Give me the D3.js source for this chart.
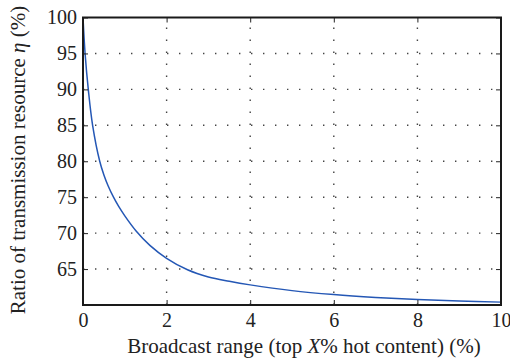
<!DOCTYPE html>
<html>
<head>
<meta charset="utf-8">
<script src="https://cdn.jsdelivr.net/npm/d3@7"></script>
<style>
  body { margin: 0; background: #fff; }
  svg { display: block; }
</style>
</head>
<body>
<svg id="chart" width="510" height="363"></svg>
<script>
// Broadcast range X (top X% hot content, %)
const broadcastRange = [0, 0.05, 0.13, 0.23, 0.4, 0.5, 0.6, 0.73, 0.85, 1.0, 1.27, 1.6, 2.0, 2.5, 3, 3.5, 4, 5, 6, 7, 8, 9, 10];
// Ratio of transmission resource eta (%)
const ratioEta = [100, 95, 89.8, 85, 80, 78.1, 76.6, 75, 73.75, 72.4, 70.3, 68.3, 66.5, 64.9, 63.9, 63.3, 62.8, 62.0, 61.45, 61.05, 60.75, 60.55, 60.4];
const xTicks = [0, 2, 4, 6, 8, 10];
const yTicks = [65, 70, 75, 80, 85, 90, 95, 100];

const svg = d3.select("#chart");
const plotLeft = 83, plotRight = 501, plotTop = 17.5, plotBottom = 305;
const FONT = "Liberation Serif";
const ink = "#222";

const x = d3.scaleLinear().domain([0, 10]).range([plotLeft, plotRight]);
const y = d3.scaleLinear().domain([60, 100]).range([plotBottom, plotTop]);

// dotted grid
const grid = svg.append("g").attr("stroke", "#444").attr("stroke-width", 1.4)
  .attr("stroke-dasharray", "1.4,10.6");
grid.selectAll(".gx").data(xTicks.filter(d => d > 0 && d < 10)).join("line")
  .attr("x1", d => x(d)).attr("x2", d => x(d)).attr("y1", plotBottom).attr("y2", plotTop);
grid.selectAll(".gy").data(yTicks.filter(d => d < 100)).join("line")
  .attr("x1", plotLeft).attr("x2", plotRight).attr("y1", d => y(d)).attr("y2", d => y(d));

// curve
const line = d3.line().x((d, i) => x(broadcastRange[i])).y(d => y(d)).curve(d3.curveCatmullRom.alpha(0.5));
svg.append("path").datum(ratioEta).attr("d", line)
  .attr("fill", "none").attr("stroke", "#2457b5").attr("stroke-width", 1.5);

// axes: inward ticks on all four sides
const tickLen = 5;
const axB = d3.axisBottom(x).tickValues(xTicks).tickSizeInner(-tickLen).tickSizeOuter(0).tickPadding(8);
const axT = d3.axisTop(x).tickValues(xTicks).tickSizeInner(-tickLen).tickSizeOuter(0).tickFormat("");
const axL = d3.axisLeft(y).tickValues(yTicks).tickSizeInner(-tickLen).tickSizeOuter(0).tickPadding(6);
const axR = d3.axisRight(y).tickValues(yTicks).tickSizeInner(-tickLen).tickSizeOuter(0).tickFormat("");

function style(g) {
  g.attr("font-family", FONT).attr("font-size", 20);
  g.select(".domain").remove();
  g.selectAll(".tick line").attr("stroke", ink).attr("stroke-width", 1);
  g.selectAll(".tick text").attr("fill", ink);
}
svg.append("g").attr("transform", `translate(0,${plotBottom})`).call(axB).call(style);
svg.append("g").attr("transform", `translate(0,${plotTop})`).call(axT).call(style);
svg.append("g").attr("transform", `translate(${plotLeft},0)`).call(axL).call(style);
svg.append("g").attr("transform", `translate(${plotRight},0)`).call(axR).call(style);

// box
svg.append("rect").attr("x", plotLeft).attr("y", plotTop)
  .attr("width", plotRight - plotLeft).attr("height", plotBottom - plotTop)
  .attr("fill", "none").attr("stroke", "#1a1a1a").attr("stroke-width", 2);

// axis titles
const xt = svg.append("text").attr("x", 304).attr("y", 353)
  .attr("text-anchor", "middle").attr("font-size", 21).attr("font-family", FONT).attr("fill", ink);
xt.append("tspan").text("Broadcast range (top ");
xt.append("tspan").attr("font-style", "italic").text("X");
xt.append("tspan").text("% hot content) (%)");

const yt = svg.append("text").attr("transform", "translate(25,160) rotate(-90)")
  .attr("text-anchor", "middle").attr("font-size", 21).attr("font-family", FONT).attr("fill", ink);
yt.append("tspan").text("Ratio of transmission resource ");
yt.append("tspan").attr("font-style", "italic").text("η");
yt.append("tspan").text(" (%)");
</script>
</body>
</html>
